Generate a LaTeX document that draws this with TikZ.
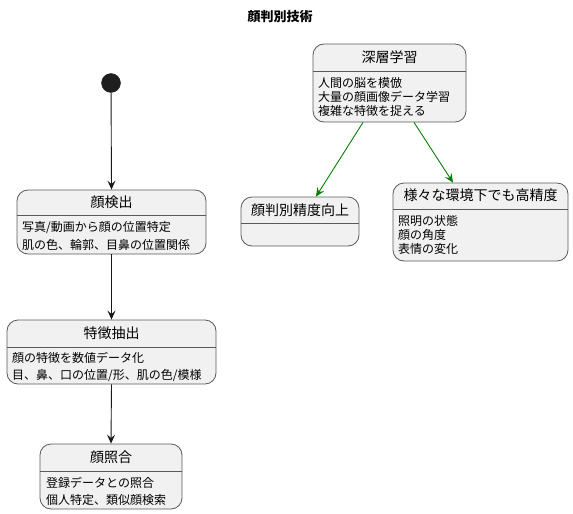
\documentclass[tikz,border=0pt]{standalone}
\usepackage{fontspec}
\setmainfont{Noto Sans CJK JP}
\usetikzlibrary{arrows.meta}
\definecolor{boxfill}{HTML}{F1F1F1}
\definecolor{boxline}{HTML}{5A5A5A}
\definecolor{arrgreen}{HTML}{008000}
\begin{document}
\begin{tikzpicture}[x=1pt,y=-1pt,
  statebox/.style={draw=boxline,fill=boxfill,line width=0.8pt,rounded corners=11pt,inner sep=0pt},
  sepline/.style={draw=boxline,line width=0.8pt},
  ttl/.style={font=\fontsize{14}{16}\selectfont,inner sep=0pt,anchor=center},
  body/.style={font=\fontsize{12}{14}\selectfont,inner sep=0pt,anchor=west},
  flow/.style={draw=black!90,line width=0.9pt,-{Stealth[length=9pt,width=8pt,inset=3.5pt]}},
  gflow/.style={draw=arrgreen,line width=0.9pt,-{Stealth[length=9pt,width=8pt,inset=3.5pt]}}]
\useasboundingbox (0,0) rectangle (573,514);
\node[font=\bfseries\fontsize{13}{15}\selectfont,inner sep=0pt] (title) at (280,17) {顔判別技術};
% initial
\node[circle,fill=black!88,draw=black!88,minimum size=19pt,inner sep=0pt] (init) at (111,83) {};
% 顔検出
\node[statebox,minimum width=189pt,minimum height=64pt] (det) at (111.5,222) {};
\draw[sepline] (det.west |- 0,215) -- (det.east |- 0,215);
\node[ttl] (detT) at (111.5,202) {顔検出};
\node[body] (detB1) at (22,228) {写真/動画から顔の位置特定};
\node[body] (detB2) at (22,245) {肌の色、輪郭、目鼻の位置関係};
% 特徴抽出
\node[statebox,minimum width=209pt,minimum height=64pt] (ext) at (111.5,352) {};
\draw[sepline] (ext.west |- 0,347) -- (ext.east |- 0,347);
\node[ttl] (extT) at (111.5,333) {特徴抽出};
\node[body] (extB1) at (12,358) {顔の特徴を数値データ化};
\node[body] (extB2) at (12,376) {目、鼻、口の位置/形、肌の色/模様};
% 顔照合
\node[statebox,minimum width=142pt,minimum height=65pt] (mat) at (111,476.5) {};
\draw[sepline] (mat.west |- 0,471) -- (mat.east |- 0,471);
\node[ttl] (matT) at (111,457) {顔照合};
\node[body] (matB1) at (46,483) {登録データとの照合};
\node[body] (matB2) at (46,500) {個人特定、類似顔検索};
% 深層学習
\node[statebox,minimum width=153pt,minimum height=78pt] (deep) at (389.5,83) {};
\draw[sepline] (deep.west |- 0,71) -- (deep.east |- 0,71);
\node[ttl] (deepT) at (389.5,57) {深層学習};
\node[body] (deepB1) at (318,83) {人間の脳を模倣};
\node[body] (deepB2) at (318,97) {大量の顔画像データ学習};
\node[body] (deepB3) at (318,111) {複雑な特徴を捉える};
% 顔判別精度向上
\node[statebox,minimum width=118pt,minimum height=49pt] (acc) at (300,221.5) {};
\draw[sepline] (acc.west |- 0,223) -- (acc.east |- 0,223);
\node[ttl] (accT) at (300,210) {顔判別精度向上};
% 様々な環境下でも高精度
\node[statebox,minimum width=175pt,minimum height=78pt] (env) at (480.5,222) {};
\draw[sepline] (env.west |- 0,209) -- (env.east |- 0,209);
\node[ttl] (envT) at (480.5,195.5) {様々な環境下でも高精度};
\node[body] (envB1) at (398,221) {照明の状態};
\node[body] (envB2) at (398,235) {顔の角度};
\node[body] (envB3) at (398,249) {表情の変化};
% connectors
\draw[flow] (init) -- (det.north);
\draw[flow] (det.south) -- (ext.north);
\draw[flow] (ext.south) -- (mat.north);
\draw[gflow] (deep.south -| 363,0) -- (acc.north -| 316,0);
\draw[gflow] (deep.south -| 414,0) -- (env.north -| 453,0);
\end{tikzpicture}
\end{document}
